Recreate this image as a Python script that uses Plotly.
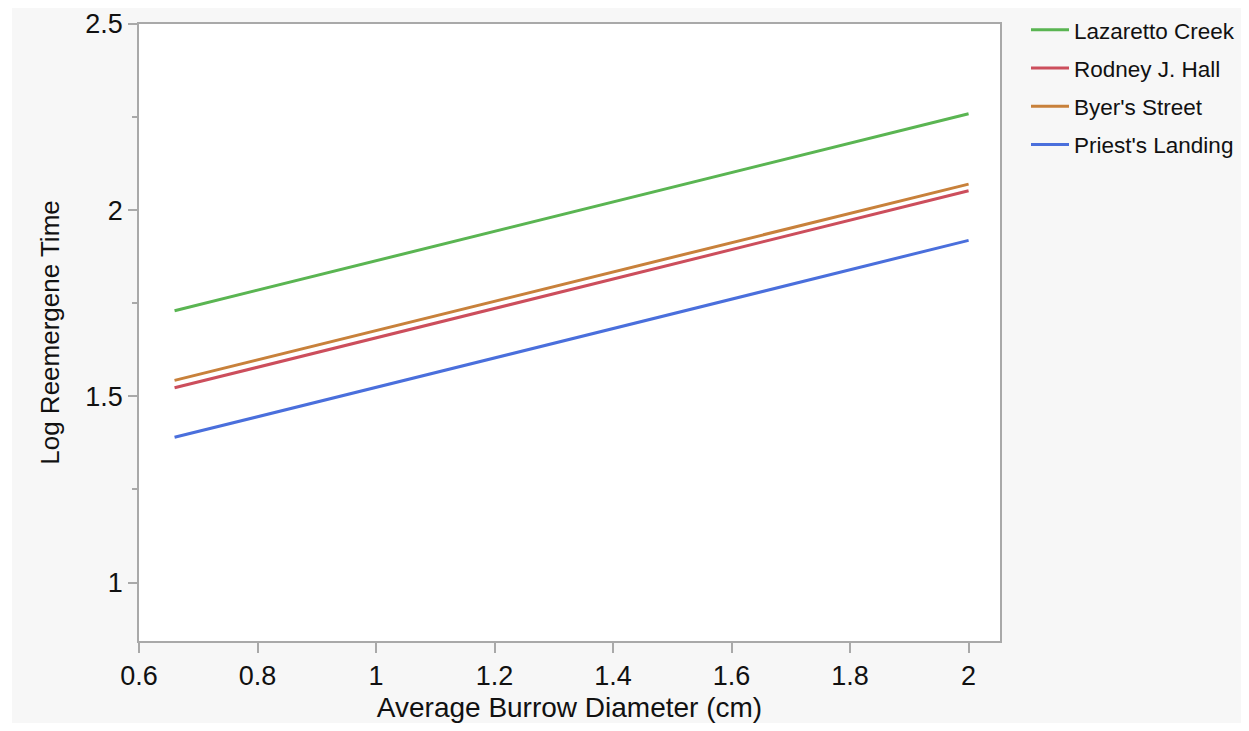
import plotly.graph_objects as go

# ---- data ----
x_ends = [0.66, 2.0]
series_names = ["Lazaretto Creek", "Rodney J. Hall", "Byer's Street", "Priest's Landing"]
lazaretto = [1.730, 2.259]
rodney = [1.523, 2.052]
byers = [1.543, 2.070]
priests = [1.390, 1.919]
series_values = [lazaretto, rodney, byers, priests]
series_colors = ["#5ab552", "#cc4e5c", "#c8813b", "#4a6fdc"]

x_tickvals = [0.6, 0.8, 1.0, 1.2, 1.4, 1.6, 1.8, 2.0]
x_ticktext = ["0.6", "0.8", "1", "1.2", "1.4", "1.6", "1.8", "2"]
y_tickvals = [1.0, 1.5, 2.0, 2.5]
y_ticktext = ["1", "1.5", "2", "2.5"]

# ---- layout geometry (page body has an 8px margin) ----
OFF = 8
W, H = 1249 - 2 * OFF, 731 - 2 * OFF
ML = 139 - OFF
MT = 24 - OFF
MR = W - (1000 - OFF)
MB = H - (641 - OFF)
PW = W - ML - MR
PH = H - MT - MB

FONT = "Liberation Sans, Arial, Helvetica, sans-serif"
AXC = "#a9a9a9"
TXT = "#111111"

fig = go.Figure()
for name, vals, col in zip(series_names, series_values, series_colors):
    fig.add_trace(go.Scatter(
        x=x_ends, y=vals, mode="lines", name=name, legendgroup=name,
        line=dict(color=col, width=3),
    ))

def px_x(p):
    # p: page pixel -> paper fraction
    return (p - OFF - ML) / PW

def px_y(p):
    return 1 - (p - OFF - MT) / PH

fig.update_layout(
    width=W, height=H,
    margin=dict(l=ML, r=MR, t=MT, b=MB, pad=0, autoexpand=False),
    paper_bgcolor="#f7f7f7",
    plot_bgcolor="#ffffff",
    font=dict(family=FONT, color=TXT),
    showlegend=True,
    legend=dict(
        xref="container", yref="container",
        x=(1026 - OFF) / W, y=0.999, xanchor="left", yanchor="top",
        font=dict(size=22.5, family=FONT, color=TXT),
        bgcolor="rgba(0,0,0,0)", tracegroupgap=6, itemwidth=38,
    ),
    xaxis=dict(
        range=[0.6, 2.053], tickvals=x_tickvals, ticktext=x_ticktext,
        showline=True, mirror=True, linecolor=AXC, linewidth=1.5,
        ticks="outside", ticklen=10, tickcolor=AXC, tickwidth=1.5,
        showgrid=False, zeroline=False, automargin=False,
        tickfont=dict(size=27, family=FONT, color=TXT),
        title=dict(text="Average Burrow Diameter (cm)", font=dict(size=28, family=FONT, color=TXT), standoff=10),
    ),
    yaxis=dict(
        range=[0.843, 2.5], tickvals=y_tickvals, ticktext=y_ticktext,
        showline=True, mirror=True, linecolor=AXC, linewidth=1.5,
        ticks="outside", ticklen=9, tickcolor=AXC, tickwidth=1.5,
        minor=dict(dtick=0.25, tick0=0, ticks="outside", ticklen=5, tickcolor=AXC, tickwidth=1.5, showgrid=False),
        showgrid=False, zeroline=False, automargin=False,
        tickfont=dict(size=27, family=FONT, color=TXT),
        title=dict(text="Log Reemergene Time", font=dict(size=26, family=FONT, color=TXT), standoff=18),
    ),
    shapes=[
        dict(type="rect", xref="paper", yref="paper", layer="below",
             x0=px_x(OFF), x1=px_x(12), y0=px_y(731 - OFF), y1=px_y(OFF),
             fillcolor="#ffffff", line=dict(width=0)),
    ],
)

fig.write_html("out.html")
